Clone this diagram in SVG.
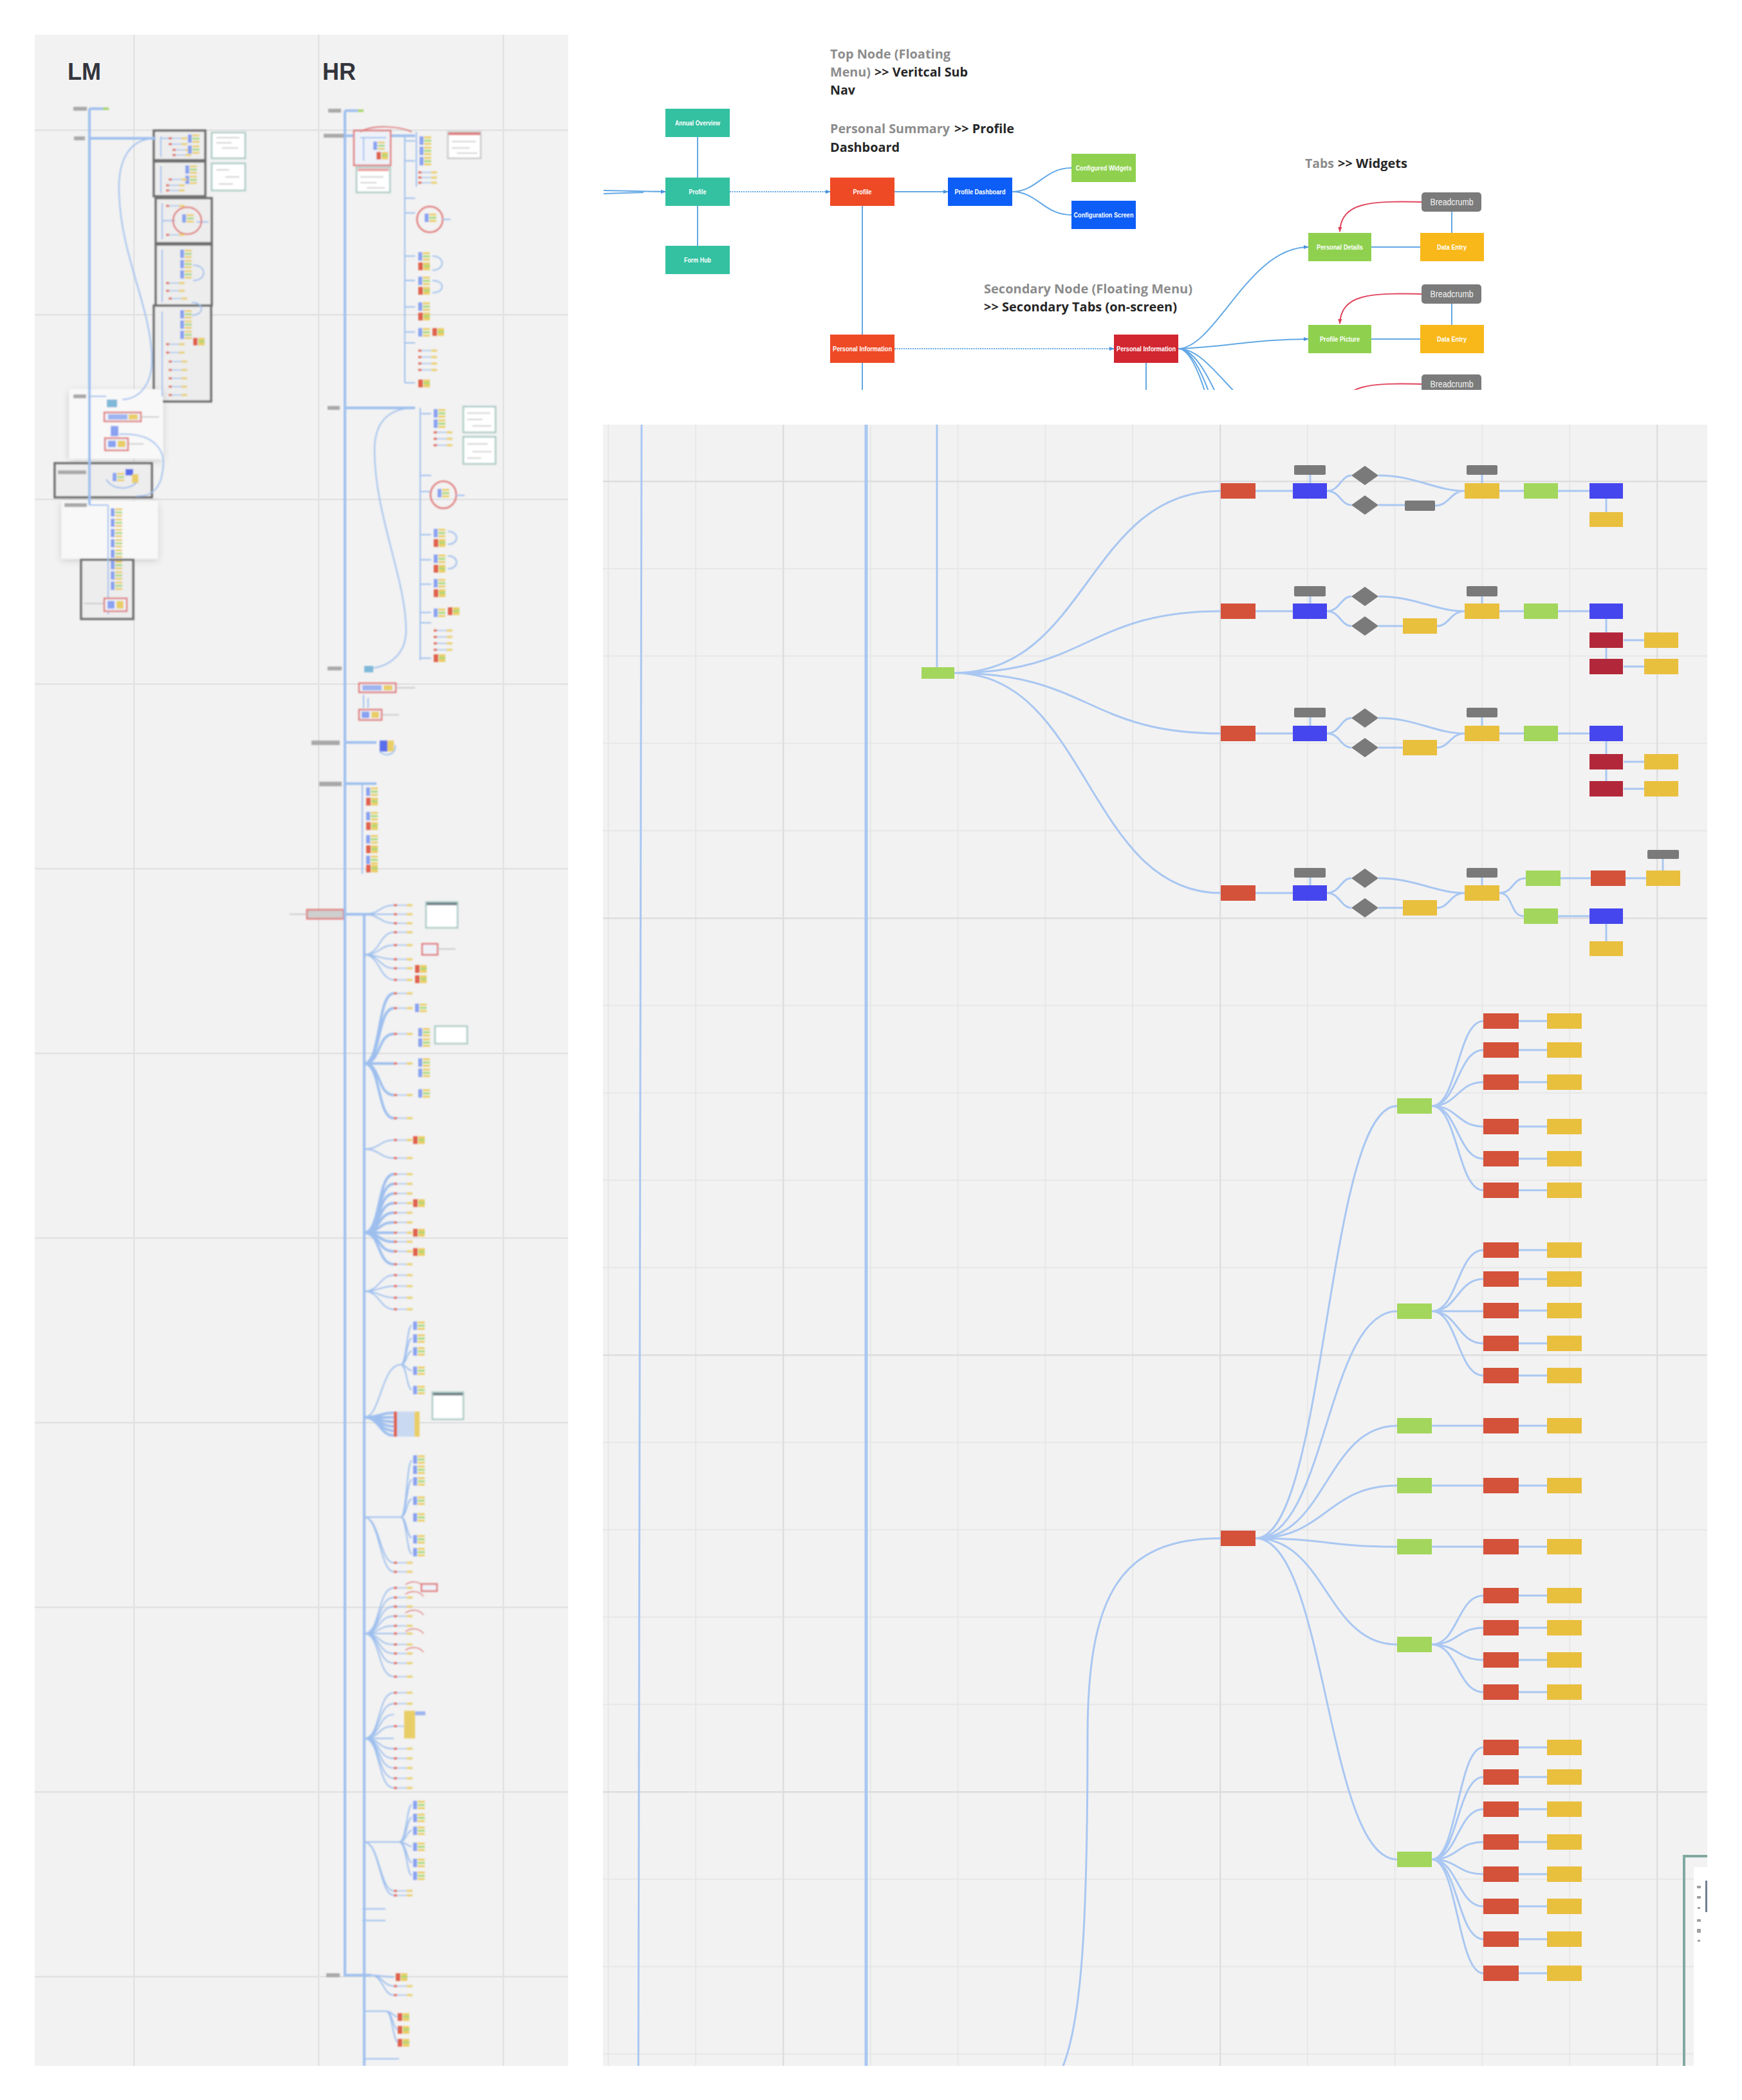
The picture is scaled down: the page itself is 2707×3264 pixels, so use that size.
<svg xmlns="http://www.w3.org/2000/svg" width="2707" height="3264" viewBox="0 0 2707 3264">
<style>
.ttl{font-family:"Open Sans","Liberation Sans",sans-serif;font-weight:700;font-size:20px}
.g{fill:#8C8C8C}.d{fill:#262626}
.nl{font-family:"Liberation Sans",Arial,sans-serif;font-weight:700;font-size:10.5px;fill:#fff;text-anchor:middle}
.bl{font-family:"Liberation Sans",Arial,sans-serif;font-size:14px;fill:#F4F4F4;text-anchor:middle}
.hd{font-family:"Liberation Sans",Arial,sans-serif;font-weight:700;font-size:36px;fill:#34343c}
.teal{fill:#33C1A1}.org{fill:#EF4A26}.blu{fill:#0C5EF6}.grn{fill:#8FD14F}.dred{fill:#D22630}.yel{fill:#F8B81A}.gry{fill:#7B7B7B}
.c{fill:none;stroke:#62A8E5;stroke-width:2}
.cd{fill:none;stroke:#62A8E5;stroke-width:2;stroke-dasharray:2 1.5}
.cr{fill:none;stroke:#E0445C;stroke-width:2}
.R{fill:#D4513A}.B{fill:#4646EE}.Y{fill:#E9BF3E}.G{fill:#A3D65C}.DR{fill:#B2283A}.GR{fill:#7A7A7A}
.w{fill:none;stroke:#A9C7F2;stroke-width:3}
.ml{fill:none;stroke:#9EBFEE;stroke-width:2}
.mlb{fill:none;stroke:#9EBFEE;stroke-width:4}
.mlab{fill:#A9A9A9}
.mgl{fill:none;stroke:#BDBDBD;stroke-width:1.5}
.mbox{fill:#EDEDED;stroke:#6E6E6E;stroke-width:3.5}
.mth{fill:#FFFFFF;stroke:#A9C9C3;stroke-width:2.5}
.mred{fill:#EEF2F8;stroke:#E07A7A;stroke-width:2.5}
.msh{fill:#F8F8F8}
</style>
<defs>
<pattern id="gMin" patternUnits="userSpaceOnUse" x="944.4" y="747" width="135.8" height="135.8"><path d="M0 1H135.8M1 0V135.8" stroke="#E7E7E7" stroke-width="2" fill="none"/></pattern>
<pattern id="gMaj" patternUnits="userSpaceOnUse" x="1216" y="747" width="679" height="679"><path d="M0 1.2H679M1.2 0V679" stroke="#DDDDDD" stroke-width="2.4" fill="none"/></pattern>
<pattern id="gLeft" patternUnits="userSpaceOnUse" x="207" y="201" width="287" height="287"><path d="M0 1.2H287M1.2 0V287" stroke="#E2E2E2" stroke-width="2.4" fill="none"/></pattern>
<clipPath id="ctop"><rect x="938" y="40" width="1715" height="566"/></clipPath>
<clipPath id="cbot"><rect x="937" y="660" width="1716" height="2551"/></clipPath>
<clipPath id="cleft"><rect x="54" y="54" width="829" height="3157"/></clipPath>
<filter id="soft" x="-5%" y="-5%" width="110%" height="110%"><feGaussianBlur stdDeviation="1.1"/></filter>
<filter id="shd" x="-20%" y="-20%" width="140%" height="140%"><feDropShadow dx="0" dy="3" stdDeviation="6" flood-color="#000" flood-opacity="0.16"/></filter>
<marker id="ab" viewBox="0 0 10 10" refX="9" refY="5" markerWidth="8" markerHeight="8" markerUnits="userSpaceOnUse" orient="auto"><path d="M0 1L10 5L0 9z" fill="#4A93DD"/></marker>
<marker id="ar" viewBox="0 0 10 10" refX="9" refY="5" markerWidth="8" markerHeight="8" markerUnits="userSpaceOnUse" orient="auto"><path d="M0 1L10 5L0 9z" fill="#DB3F57"/></marker>
<g id="fr"><rect x="0" y="-1.5" width="5" height="3" fill="#E0624E"/><path d="M5 0H20" stroke="#9EBFEE" stroke-width="1.5"/><rect x="20" y="-1.5" width="9" height="3" fill="#E9CE67"/></g>
<g id="st"><rect x="0" y="0" width="6" height="13" fill="#8AA2F0"/><rect x="7" y="0" width="11" height="3" fill="#E9CE67"/><rect x="7" y="5" width="11" height="3" fill="#A9D878"/><rect x="7" y="10" width="11" height="3" fill="#E9CE67"/></g>
<g id="sr"><rect x="0" y="0" width="7" height="12" fill="#E0624E"/><rect x="8" y="0" width="10" height="12" fill="#E9CE67"/><rect x="8" y="4" width="10" height="3" fill="#A9D878"/></g>
</defs>

<rect width="2707" height="3264" fill="#FFFFFF"/>

<!-- ===================== LEFT OVERVIEW PANEL ===================== -->
<g id="left-panel" clip-path="url(#cleft)">
<rect x="54" y="54" width="829" height="3157" fill="#F2F2F2"/>
<rect x="54" y="54" width="829" height="3157" fill="url(#gLeft)"/>
<text class="hd" x="105" y="124">LM</text>
<text class="hd" x="501" y="124">HR</text>

<g id="lm-map" filter="url(#soft)">
 <rect class="mbox" x="239" y="203" width="80" height="46"/>
 <rect class="mbox" x="239" y="251" width="80" height="54"/>
 <rect class="mbox" x="242" y="308" width="87" height="70"/>
 <rect class="mbox" x="242" y="380" width="87" height="95"/>
 <rect class="mbox" x="239" y="475" width="89" height="149"/>
 <rect class="mth" x="329" y="206" width="52" height="40"/>
 <rect class="mth" x="329" y="254" width="52" height="42"/>
 <path d="M336 214H372M336 222H360M345 230H370" stroke="#CFCFCF" stroke-width="2"/>
 <path d="M336 264H356M350 275H372M340 286H362" stroke="#CFCFCF" stroke-width="2"/>
 <rect class="msh" x="108" y="605" width="145" height="108" filter="url(#shd)"/>
 <rect class="mbox" x="85" y="720" width="151" height="53"/>
 <rect class="msh" x="96" y="779" width="149" height="89" filter="url(#shd)"/>
 <rect class="mbox" x="126" y="870" width="81" height="92"/>

 <rect class="mlab" x="114" y="166" width="21" height="6"/>
 <rect class="mlab" x="115" y="212" width="17" height="6"/>
 <path class="mlb" d="M139 169V785M139 169H164M139 215H242"/>
 <rect x="160" y="167" width="9" height="4" fill="#A8D670"/>
 <path class="ml" d="M242 215C200 215 183 250 185 300C188 400 236 480 236 560C236 600 215 620 190 621"/>
 <path class="ml" d="M250 212V244M250 215H262M250 258V300M252 316V372M252 343H272M252 388V470M252 484V616M305 345H324M300 412C322 412 322 436 300 436M298 470C318 470 318 490 298 490"/>
 <use href="#fr" x="262" y="215"/><use href="#fr" x="262" y="224"/><use href="#fr" x="268" y="233"/><use href="#fr" x="268" y="241"/>
 <use href="#st" x="292" y="209"/><use href="#st" x="292" y="226"/>
 <use href="#st" x="288" y="257"/><use href="#st" x="288" y="273"/>
 <use href="#fr" x="258" y="288"/><use href="#fr" x="258" y="296"/><use href="#fr" x="262" y="279"/>
 <ellipse cx="291" cy="343" rx="22" ry="21" fill="none" stroke="#E17B7B" stroke-width="2.5"/>
 <use href="#st" x="283" y="333"/>
 <use href="#fr" x="258" y="320"/><use href="#fr" x="258" y="365"/>
 <use href="#st" x="280" y="388"/><use href="#st" x="280" y="404"/><use href="#st" x="280" y="420"/>
 <use href="#fr" x="258" y="440"/><use href="#fr" x="258" y="452"/><use href="#fr" x="262" y="464"/>
 <use href="#st" x="280" y="482"/><use href="#st" x="280" y="498"/><use href="#st" x="280" y="514"/>
 <use href="#sr" x="300" y="525"/>
 <use href="#fr" x="258" y="535"/><use href="#fr" x="258" y="548"/><use href="#fr" x="262" y="562"/><use href="#fr" x="262" y="575"/><use href="#fr" x="262" y="588"/><use href="#fr" x="262" y="601"/><use href="#fr" x="262" y="614"/>

 <rect class="mlab" x="114" y="613" width="20" height="6"/>
 <path class="ml" d="M139 616H165"/>
 <rect x="166" y="621" width="16" height="12" fill="#7FB8D8"/>
 <rect class="mred" x="162" y="641" width="57" height="14"/>
 <rect x="168" y="644" width="30" height="8" fill="#9DB4F0"/><rect x="200" y="644" width="14" height="8" fill="#E9CE67"/>
 <path class="mgl" d="M219 648H247M199 690H223M131 938H161"/>
 <rect x="172" y="662" width="12" height="16" fill="#8AA2F0"/>
 <rect class="mred" x="163" y="681" width="36" height="19"/>
 <rect x="168" y="685" width="12" height="10" fill="#8AA2F0"/><rect x="183" y="685" width="12" height="10" fill="#E9CE67"/>
 <path class="ml" d="M185 675C240 672 258 700 253 730C250 760 235 772 212 771"/>
 <rect class="mlab" x="90" y="731" width="44" height="6"/>
 <use href="#st" x="175" y="735"/>
 <rect x="195" y="729" width="12" height="10" fill="#5A6EEA"/><rect x="205" y="737" width="10" height="14" fill="#E9CE67"/>
 <path class="ml" d="M165 745C175 762 200 762 212 750"/>
 <rect class="mlab" x="100" y="782" width="35" height="6"/>
 <path class="ml" d="M168 785V955M139 785H168"/>
 <use href="#st" x="172" y="790"/><use href="#st" x="172" y="806"/><use href="#st" x="172" y="822"/><use href="#st" x="172" y="838"/><use href="#st" x="172" y="854"/><use href="#st" x="172" y="872"/><use href="#st" x="172" y="888"/><use href="#st" x="172" y="904"/>
 <rect class="mred" x="162" y="930" width="35" height="20"/>
 <rect x="167" y="934" width="11" height="12" fill="#8AA2F0"/><rect x="181" y="934" width="11" height="12" fill="#E9CE67"/>
</g>

<g id="hr-map" filter="url(#soft)">
 <rect class="mlab" x="510" y="169" width="20" height="6"/>
 <rect class="mlab" x="503" y="208" width="31" height="6"/>
 <rect class="mlab" x="509" y="631" width="19" height="6"/>
 <rect class="mlab" x="509" y="1036" width="22" height="6"/>
 <rect class="mlab" x="484" y="1151" width="44" height="7"/>
 <rect class="mlab" x="496" y="1215" width="35" height="7"/>
 <rect class="mlab" x="507" y="3067" width="21" height="6"/>
 <rect x="477" y="1414" width="57" height="14" fill="#CFCFCF" stroke="#E07A7A" stroke-width="2.5"/>
 <path class="mgl" d="M450 1421H477"/>

 <path class="mlb" d="M536 172V3070H577M536 172H561M536 211H645M536 634H645M536 1154H585M536 1218H585M534 1421H577"/>
 <rect x="556" y="170" width="9" height="4" fill="#A8D670"/>
 <path class="mlb" d="M566 1421V3211"/>

 <rect class="mred" x="550" y="203" width="57" height="54"/>
 <path class="ml" d="M560 214H600M565 214V250"/>
 <use href="#st" x="580" y="220"/><use href="#sr" x="585" y="236"/>
 <path d="M560 205C580 193 620 196 640 205" fill="none" stroke="#E07A7A" stroke-width="2"/>
 <rect class="mth" x="554" y="260" width="52" height="39"/>
 <rect x="556" y="262" width="48" height="4" fill="#E9A0A0"/>
 <path d="M560 275H596M560 284H585M570 292H598" stroke="#D0D0D0" stroke-width="2"/>
 <rect class="mth" x="696" y="205" width="51" height="41" style="stroke:#C8C8C8"/>
 <rect x="697" y="206" width="49" height="4" fill="#E07A7A"/>
 <path d="M702 220H740M702 230H730M710 238H742" stroke="#D0D0D0" stroke-width="2"/>

 <path class="ml" d="M629 209V595M647 205V290M629 219H645M629 250H645M629 308H645M629 331H645M629 398H645M629 436H645M629 477H645M629 516H645M629 533H645M629 595H645"/>
 <use href="#st" x="652" y="212"/><use href="#st" x="652" y="228"/><use href="#st" x="652" y="244"/>
 <use href="#fr" x="650" y="268"/><use href="#fr" x="650" y="276"/><use href="#fr" x="650" y="284"/>
 <ellipse cx="668" cy="341" rx="20" ry="20" fill="none" stroke="#E17B7B" stroke-width="2.5"/>
 <use href="#st" x="660" y="332"/>
 <path class="ml" d="M688 341H700"/>
 <use href="#st" x="650" y="392"/><use href="#sr" x="650" y="408"/>
 <path class="ml" d="M672 398C692 398 692 420 672 420M672 436C692 436 692 455 672 455"/>
 <use href="#st" x="650" y="430"/><use href="#sr" x="650" y="446"/>
 <use href="#st" x="650" y="470"/><use href="#sr" x="650" y="486"/>
 <use href="#st" x="650" y="510"/><use href="#sr" x="672" y="510"/>
 <use href="#fr" x="650" y="545"/><use href="#fr" x="650" y="555"/><use href="#fr" x="650" y="565"/><use href="#fr" x="650" y="575"/>
 <use href="#sr" x="650" y="590"/>

 <path class="ml" d="M645 634C600 634 582 660 582 700C582 800 631 900 631 980C631 1020 600 1039 569 1039"/>
 <path class="ml" d="M653 634V1026M653 643H670M653 739H670M653 764H670M653 831H670M653 870H670M653 908H670M653 952H670M653 968H670M653 1023H670"/>
 <rect class="mth" x="720" y="632" width="50" height="40"/>
 <rect class="mth" x="720" y="679" width="50" height="42"/>
 <path d="M726 642H762M726 652H750M734 662H764M726 690H758M734 702H764M726 712H748" stroke="#D0D0D0" stroke-width="2"/>
 <use href="#st" x="674" y="636"/><use href="#st" x="674" y="652"/><use href="#fr" x="674" y="672"/><use href="#fr" x="674" y="682"/><use href="#fr" x="674" y="692"/>
 <ellipse cx="689" cy="769" rx="20" ry="21" fill="none" stroke="#E17B7B" stroke-width="2.5"/>
 <use href="#st" x="680" y="760"/>
 <path class="ml" d="M709 770H722"/>
 <use href="#st" x="674" y="822"/><use href="#sr" x="674" y="838"/>
 <path class="ml" d="M696 826C714 826 714 846 696 846M696 864C714 864 714 884 696 884"/>
 <use href="#st" x="674" y="862"/><use href="#sr" x="674" y="878"/>
 <use href="#st" x="674" y="900"/><use href="#sr" x="674" y="916"/>
 <use href="#st" x="674" y="946"/><use href="#sr" x="696" y="944"/>
 <use href="#fr" x="674" y="980"/><use href="#fr" x="674" y="990"/><use href="#fr" x="674" y="1000"/><use href="#fr" x="674" y="1010"/>
 <use href="#sr" x="674" y="1017"/>

 <rect x="566" y="1035" width="14" height="10" fill="#7FB8D8"/>
 <rect class="mred" x="558" y="1062" width="57" height="14"/>
 <rect x="563" y="1065" width="30" height="8" fill="#9DB4F0"/><rect x="596" y="1065" width="14" height="8" fill="#E9CE67"/>
 <path class="mgl" d="M615 1069H645M593 1111H620"/>
 <path class="ml" d="M565 1080V1100M572 1085V1100"/>
 <rect class="mred" x="558" y="1103" width="35" height="16"/>
 <rect x="562" y="1106" width="12" height="10" fill="#8AA2F0"/><rect x="577" y="1106" width="12" height="10" fill="#E9CE67"/>
 <rect x="590" y="1151" width="12" height="17" fill="#5A6EEA"/><rect x="602" y="1151" width="10" height="17" fill="#E9CE67"/>
 <path class="ml" d="M590 1168C600 1178 616 1172 614 1158"/>
 <path class="ml" d="M563 1218V1358"/>
 <use href="#st" x="569" y="1224"/><use href="#sr" x="569" y="1240"/><use href="#st" x="569" y="1262"/><use href="#sr" x="569" y="1278"/><use href="#st" x="569" y="1298"/><use href="#sr" x="569" y="1314"/><use href="#st" x="569" y="1330"/><use href="#sr" x="569" y="1344"/>

 <path class="ml" d="M566 1421C590 1421 590 1407 612 1407M566 1421H612M566 1421C590 1421 590 1435 612 1435"/>
 <use href="#fr" x="612" y="1407"/><use href="#fr" x="612" y="1421"/><use href="#fr" x="612" y="1435"/>
 <rect class="mth" x="662" y="1402" width="49" height="40"/><rect x="663" y="1403" width="47" height="4" fill="#6E7E86"/>
 <path class="ml" d="M566 1484C590 1484 590 1449 612 1449M566 1484C590 1484 590 1469 612 1469M566 1484C590 1484 590 1491 612 1491M566 1484C590 1484 590 1505 612 1505M566 1484C590 1484 590 1523 612 1523"/>
 <use href="#fr" x="612" y="1449"/><use href="#fr" x="612" y="1469"/><use href="#fr" x="612" y="1491"/><use href="#fr" x="612" y="1505"/><use href="#fr" x="612" y="1523"/>
 <rect class="mred" x="656" y="1467" width="24" height="17"/><path class="mgl" d="M680 1475H708"/>
 <use href="#sr" x="645" y="1500"/><use href="#sr" x="645" y="1516"/>
 <path class="mlb" d="M566 1653C592 1653 586 1544 612 1544M566 1653C592 1653 586 1567 612 1567M566 1653C592 1653 586 1607 612 1607M566 1653H612M566 1653C592 1653 586 1702 612 1702M566 1653C592 1653 586 1738 612 1738"/>
 <use href="#fr" x="612" y="1544"/><use href="#fr" x="612" y="1567"/><use href="#fr" x="612" y="1607"/><use href="#fr" x="612" y="1653"/><use href="#fr" x="612" y="1702"/><use href="#fr" x="612" y="1738"/>
 <use href="#st" x="645" y="1560"/><use href="#st" x="650" y="1598"/><use href="#st" x="650" y="1614"/><use href="#st" x="650" y="1645"/><use href="#st" x="650" y="1661"/><use href="#st" x="650" y="1693"/>
 <rect class="mth" x="676" y="1595" width="50" height="27"/>
 <path class="ml" d="M566 1786C590 1786 590 1772 612 1772M566 1786C590 1786 590 1800 612 1800"/>
 <use href="#fr" x="612" y="1772"/><use href="#fr" x="612" y="1800"/><use href="#sr" x="642" y="1766"/>
 <path class="mlb" d="M566 1916C592 1916 586 1825 612 1825M566 1916C592 1916 586 1840 612 1840M566 1916C592 1916 586 1855 612 1855M566 1916C592 1916 586 1870 612 1870M566 1916C592 1916 586 1885 612 1885M566 1916C592 1916 586 1900 612 1900M566 1916H612M566 1916C592 1916 586 1930 612 1930M566 1916C592 1916 586 1945 612 1945M566 1916C592 1916 586 1965 612 1965"/>
 <use href="#fr" x="612" y="1825"/><use href="#fr" x="612" y="1840"/><use href="#fr" x="612" y="1855"/><use href="#fr" x="612" y="1870"/><use href="#fr" x="612" y="1885"/><use href="#fr" x="612" y="1900"/><use href="#fr" x="612" y="1916"/><use href="#fr" x="612" y="1930"/><use href="#fr" x="612" y="1945"/><use href="#fr" x="612" y="1965"/>
 <use href="#sr" x="642" y="1864"/><use href="#sr" x="642" y="1910"/><use href="#sr" x="642" y="1940"/>
 <path class="ml" d="M566 2007C590 2007 590 1982 612 1982M566 2007C590 2007 590 1999 612 1999M566 2007C590 2007 590 2017 612 2017M566 2007C590 2007 590 2035 612 2035"/>
 <use href="#fr" x="612" y="1982"/><use href="#fr" x="612" y="1999"/><use href="#fr" x="612" y="2017"/><use href="#fr" x="612" y="2035"/>
 <path class="ml" d="M566 2203C592 2203 592 2121 623 2121M623 2121C632 2121 632 2060 640 2060M623 2121C632 2121 632 2080 640 2080M623 2121C632 2121 632 2100 640 2100M623 2121C632 2121 632 2130 640 2130M623 2121C632 2121 632 2160 640 2160"/>
 <use href="#st" x="642" y="2054"/><use href="#st" x="642" y="2074"/><use href="#st" x="642" y="2094"/><use href="#st" x="642" y="2124"/><use href="#st" x="642" y="2154"/>
 <path class="mlb" d="M566 2203C590 2203 590 2196 612 2196M566 2203H612M566 2203C590 2203 590 2210 612 2210M566 2203C590 2203 590 2217 612 2217M566 2203C590 2203 590 2224 612 2224M566 2203C590 2203 590 2231 612 2231"/>
 <rect x="612" y="2194" width="38" height="39" fill="#C9D9F2"/><rect x="612" y="2194" width="5" height="39" fill="#E0624E"/><rect x="644" y="2194" width="8" height="39" fill="#E9CE67"/>
 <rect class="mth" x="672" y="2164" width="48" height="42"/><rect x="673" y="2165" width="46" height="4" fill="#6E7E86"/>
 <path class="ml" d="M566 2358H623M623 2358C632 2358 632 2270 640 2270M623 2358C632 2358 632 2300 640 2300M623 2358C632 2358 632 2330 640 2330M623 2358C632 2358 632 2390 640 2390M623 2358C632 2358 632 2415 640 2415M566 2358C590 2358 590 2429 612 2429M566 2358C590 2358 590 2443 612 2443"/>
 <use href="#st" x="642" y="2262"/><use href="#st" x="642" y="2278"/><use href="#st" x="642" y="2296"/><use href="#st" x="642" y="2326"/><use href="#st" x="642" y="2352"/><use href="#st" x="642" y="2386"/><use href="#st" x="642" y="2406"/>
 <use href="#fr" x="612" y="2429"/><use href="#fr" x="612" y="2443"/>
 <path class="ml" d="M566 2539C592 2539 586 2468 612 2468M566 2539C592 2539 586 2483 612 2483M566 2539C592 2539 586 2497 612 2497M566 2539C592 2539 586 2512 612 2512M566 2539C592 2539 586 2527 612 2527M566 2539H612M566 2539C592 2539 586 2556 612 2556M566 2539C592 2539 586 2570 612 2570M566 2539C592 2539 586 2585 612 2585M566 2539C592 2539 586 2606 612 2606"/>
 <use href="#fr" x="612" y="2468"/><use href="#fr" x="612" y="2483"/><use href="#fr" x="612" y="2497"/><use href="#fr" x="612" y="2512"/><use href="#fr" x="612" y="2527"/><use href="#fr" x="612" y="2539"/><use href="#fr" x="612" y="2556"/><use href="#fr" x="612" y="2570"/><use href="#fr" x="612" y="2585"/><use href="#fr" x="612" y="2606"/>
 <path d="M630 2463C640 2456 652 2458 658 2466M630 2478C640 2471 652 2473 658 2481M630 2507C640 2500 652 2502 658 2510M630 2536C640 2529 652 2531 658 2539M630 2565C640 2558 652 2560 658 2568" fill="none" stroke="#E07A7A" stroke-width="1.5"/>
 <rect class="mred" x="655" y="2462" width="24" height="11"/>
 <path class="ml" d="M566 2702C592 2702 586 2631 612 2631M566 2702C592 2702 586 2648 612 2648M566 2702C592 2702 586 2665 612 2665M566 2702C592 2702 586 2683 612 2683M566 2702H612M566 2702C592 2702 586 2718 612 2718M566 2702C592 2702 586 2733 612 2733M566 2702C592 2702 586 2748 612 2748M566 2702C592 2702 586 2764 612 2764M566 2702C592 2702 586 2779 612 2779"/>
 <use href="#fr" x="612" y="2631"/><use href="#fr" x="612" y="2648"/><use href="#fr" x="612" y="2683"/><use href="#fr" x="612" y="2718"/><use href="#fr" x="612" y="2733"/><use href="#fr" x="612" y="2748"/><use href="#fr" x="612" y="2764"/><use href="#fr" x="612" y="2779"/>
 <rect x="628" y="2659" width="17" height="43" fill="#E9CE67"/><rect x="645" y="2660" width="16" height="6" fill="#9DB4F0"/>
 <path class="ml" d="M566 2863H620M620 2863C632 2863 632 2805 640 2805M620 2863C632 2863 632 2825 640 2825M620 2863C632 2863 632 2845 640 2845M620 2863C632 2863 632 2870 640 2870M620 2863C632 2863 632 2895 640 2895M620 2863C632 2863 632 2915 640 2915M566 2863C590 2863 590 2939 612 2939M566 2863C590 2863 590 2946 612 2946"/>
 <use href="#st" x="642" y="2799"/><use href="#st" x="642" y="2819"/><use href="#st" x="642" y="2839"/><use href="#st" x="642" y="2864"/><use href="#st" x="642" y="2889"/><use href="#st" x="642" y="2909"/>
 <use href="#fr" x="612" y="2939"/><use href="#fr" x="612" y="2946"/>
 <path class="ml" d="M563 2967H599M563 2985H599"/>
 <path class="ml" d="M577 3070C595 3070 595 3073 612 3073M577 3070C595 3070 595 3087 612 3087M577 3070C595 3070 595 3101 612 3101"/>
 <use href="#sr" x="615" y="3067"/><use href="#fr" x="612" y="3087"/><use href="#fr" x="612" y="3101"/>
 <path class="ml" d="M566 3126H600M600 3126C610 3126 610 3135 620 3135M600 3126C610 3126 610 3155 620 3155M600 3126C610 3126 610 3175 620 3175M566 3200H620"/>
 <use href="#sr" x="618" y="3129"/><use href="#sr" x="618" y="3149"/><use href="#sr" x="618" y="3169"/>
</g>
</g>

<!-- ===================== TOP DETAIL PANEL ===================== -->
<g id="top-panel" clip-path="url(#ctop)">
 <g id="captions">
  <text class="ttl g" x="1290" y="91" textLength="187" lengthAdjust="spacingAndGlyphs">Top Node (Floating</text>
  <text class="ttl g" x="1290" y="119" textLength="63" lengthAdjust="spacingAndGlyphs">Menu)</text>
  <text class="ttl d" x="1359" y="119" textLength="145" lengthAdjust="spacingAndGlyphs">&gt;&gt; Veritcal Sub</text>
  <text class="ttl d" x="1290" y="147" textLength="39" lengthAdjust="spacingAndGlyphs">Nav</text>
  <text class="ttl g" x="1290" y="207" textLength="186" lengthAdjust="spacingAndGlyphs">Personal Summary</text>
  <text class="ttl d" x="1483" y="207" textLength="93" lengthAdjust="spacingAndGlyphs">&gt;&gt; Profile</text>
  <text class="ttl d" x="1290" y="236" textLength="108" lengthAdjust="spacingAndGlyphs">Dashboard</text>
  <text class="ttl g" x="1529" y="456" textLength="324" lengthAdjust="spacingAndGlyphs">Secondary Node (Floating Menu)</text>
  <text class="ttl d" x="1529" y="484" textLength="300" lengthAdjust="spacingAndGlyphs">&gt;&gt; Secondary Tabs (on-screen)</text>
  <text class="ttl g" x="2028" y="261" textLength="45" lengthAdjust="spacingAndGlyphs">Tabs</text>
  <text class="ttl d" x="2079" y="261" textLength="108" lengthAdjust="spacingAndGlyphs">&gt;&gt; Widgets</text>
 </g>

 <g id="top-connectors">
  <path class="c" d="M938 296L1034 298" marker-end="url(#ab)"/>
  <path class="c" d="M938 301L1000 299"/>
  <path class="c" d="M1084 213V276M1084 320V382"/>
  <path class="cd" d="M1134 298H1290" marker-end="url(#ab)"/>
  <path class="c" d="M1390 298H1473" marker-end="url(#ab)"/>
  <path class="c" d="M1573 298C1612 298 1622 261 1665 261M1573 298C1612 298 1622 334 1665 334"/>
  <path class="c" d="M1340 320V520M1340 564V606"/>
  <path class="cd" d="M1390 542H1731" marker-end="url(#ab)"/>
  <path class="c" d="M1781 564V606"/>
  <path class="c" d="M1831 542C1890 540 1940 384 2033 384" marker-end="url(#ab)"/>
  <path class="c" d="M1831 542C1900 540 1950 527 2033 527" marker-end="url(#ab)"/>
  <path class="c" d="M1831 542C1890 542 1930 670 2033 670M1831 542C1895 542 1935 812 2033 812M1831 542C1898 542 1938 955 2033 955M1831 542C1900 542 1940 1100 2033 1100"/>
  <path class="c" d="M2256 329V362M2131 384H2207M2256 472V505M2131 527H2207"/>
  <path class="cr" d="M2209 314C2130 312 2084 314 2082 360" marker-end="url(#ar)"/>
  <path class="cr" d="M2209 457C2130 455 2084 457 2082 503" marker-end="url(#ar)"/>
  <path class="cr" d="M2209 597C2130 595 2084 597 2082 643"/>
 </g>

 <g id="n-annual-overview"><rect class="teal" x="1034" y="169" width="100" height="44"/><text class="nl" x="1084" y="195" textLength="70" lengthAdjust="spacingAndGlyphs">Annual Overview</text></g>
 <g id="n-profile-teal"><rect class="teal" x="1034" y="276" width="100" height="44"/><text class="nl" x="1084" y="302" textLength="27" lengthAdjust="spacingAndGlyphs">Profile</text></g>
 <g id="n-form-hub"><rect class="teal" x="1034" y="382" width="100" height="44"/><text class="nl" x="1084" y="408" textLength="42" lengthAdjust="spacingAndGlyphs">Form Hub</text></g>
 <g id="n-profile"><rect class="org" x="1290" y="276" width="100" height="44"/><text class="nl" x="1340" y="302" textLength="29" lengthAdjust="spacingAndGlyphs">Profile</text></g>
 <g id="n-profile-dashboard"><rect class="blu" x="1473" y="276" width="100" height="44"/><text class="nl" x="1523" y="302" textLength="79" lengthAdjust="spacingAndGlyphs">Profile Dashboard</text></g>
 <g id="n-configured-widgets"><rect class="grn" x="1665" y="239" width="100" height="44"/><text class="nl" x="1715" y="265" textLength="87" lengthAdjust="spacingAndGlyphs">Configured Widgets</text></g>
 <g id="n-configuration-screen"><rect class="blu" x="1665" y="312" width="100" height="44"/><text class="nl" x="1715" y="338" textLength="93" lengthAdjust="spacingAndGlyphs">Configuration Screen</text></g>
 <g id="n-personal-info-1"><rect class="org" x="1290" y="520" width="100" height="44"/><text class="nl" x="1340" y="546" textLength="92" lengthAdjust="spacingAndGlyphs">Personal Information</text></g>
 <g id="n-personal-info-2"><rect class="dred" x="1731" y="520" width="100" height="44"/><text class="nl" x="1781" y="546" textLength="92" lengthAdjust="spacingAndGlyphs">Personal Information</text></g>
 <g id="n-personal-details"><rect class="grn" x="2033" y="362" width="98" height="44"/><text class="nl" x="2082" y="388" textLength="72" lengthAdjust="spacingAndGlyphs">Personal Details</text></g>
 <g id="n-data-entry-1"><rect class="yel" x="2207" y="362" width="99" height="44"/><text class="nl" x="2256" y="388" textLength="46" lengthAdjust="spacingAndGlyphs">Data Entry</text></g>
 <g id="n-breadcrumb-1"><rect class="gry" x="2209" y="299" width="93" height="30" rx="5"/><text class="bl" x="2256" y="319" textLength="67" lengthAdjust="spacingAndGlyphs">Breadcrumb</text></g>
 <g id="n-profile-picture"><rect class="grn" x="2033" y="505" width="98" height="44"/><text class="nl" x="2082" y="531" textLength="62" lengthAdjust="spacingAndGlyphs">Profile Picture</text></g>
 <g id="n-data-entry-2"><rect class="yel" x="2207" y="505" width="99" height="44"/><text class="nl" x="2256" y="531" textLength="46" lengthAdjust="spacingAndGlyphs">Data Entry</text></g>
 <g id="n-breadcrumb-2"><rect class="gry" x="2209" y="442" width="93" height="30" rx="5"/><text class="bl" x="2256" y="462" textLength="67" lengthAdjust="spacingAndGlyphs">Breadcrumb</text></g>
 <g id="n-breadcrumb-3"><rect class="gry" x="2209" y="582" width="93" height="30" rx="5"/><text class="bl" x="2256" y="602" textLength="67" lengthAdjust="spacingAndGlyphs">Breadcrumb</text></g>
</g>

<!-- ===================== BOTTOM DETAIL PANEL ===================== -->
<g id="bottom-panel" clip-path="url(#cbot)">
 <rect x="937" y="660" width="1716" height="2551" fill="#F2F2F2"/>
 <rect x="937" y="660" width="1716" height="2551" fill="url(#gMin)"/>
 <rect x="937" y="660" width="1716" height="2551" fill="url(#gMaj)"/>

 <g id="bottom-connectors">
  <path class="w" d="M997 660L992 3211"/>
  <path class="w" d="M1346 660V3211" style="stroke-width:5"/>
  <path class="w" d="M1456 660V1037"/>
  <path class="w" d="M1483 1046C1690 1046 1690 763 1897 763M1483 1046C1690 1046 1690 950 1897 950M1483 1046C1690 1046 1690 1140 1897 1140M1483 1046C1690 1046 1690 1388 1897 1388"/>
  <path class="w" d="M1951 763H2009M2036 738V751M2062 763C2082 763 2084 739 2100 739M2062 763C2082 763 2084 785 2100 785M2142 739C2200 739 2230 763 2276 763M2142 785H2183M2230 786C2252 786 2254 763 2276 763M2303 738V751M2330 763H2368M2421 763H2470M2496 775V796"/>
  <path class="w" d="M1951 950H2009M2036 927V938M2062 950C2082 950 2084 927 2100 927M2062 950C2082 950 2084 973 2100 973M2142 927C2200 927 2230 950 2276 950M2142 973H2180M2233 973C2252 973 2254 950 2276 950M2303 927V938M2330 950H2368M2421 950H2470M2496 962V1024M2523 995H2555M2523 1036H2555"/>
  <path class="w" d="M1951 1140H2009M2036 1115V1128M2062 1140C2082 1140 2084 1116 2100 1116M2062 1140C2082 1140 2084 1162 2100 1162M2142 1116C2200 1116 2230 1140 2276 1140M2142 1162H2180M2233 1162C2252 1162 2254 1140 2276 1140M2303 1115V1128M2330 1140H2368M2421 1140H2470M2496 1152V1214M2523 1184H2555M2523 1226H2555"/>
  <path class="w" d="M1951 1388H2009M2036 1364V1376M2062 1388C2082 1388 2084 1365 2100 1365M2062 1388C2082 1388 2084 1411 2100 1411M2142 1365C2200 1365 2230 1388 2276 1388M2142 1411H2180M2233 1411C2252 1411 2254 1388 2276 1388M2303 1364V1376M2330 1388C2352 1388 2350 1365 2371 1365M2330 1388C2352 1388 2346 1424 2368 1424M2425 1365H2472M2526 1365H2558M2584 1335V1353M2421 1424H2470M2496 1436V1463"/>
  <path class="w" d="M1652 3211C1680 3140 1690 3000 1690 2700C1690 2480 1740 2391 1897 2391"/>
  <path class="w" d="M1951 2391C2061 2391 2061 1719 2171 1719M1951 2391C2061 2391 2061 2038 2171 2038M1951 2391C2061 2391 2061 2216 2171 2216M1951 2391C2061 2391 2061 2309 2171 2309M1951 2391C2061 2391 2061 2404 2171 2404M1951 2391C2061 2391 2061 2556 2171 2556M1951 2391C2061 2391 2061 2890 2171 2890"/>
  <path class="w" d="M2225 1719C2265 1719 2265 1587 2305 1587M2225 1719C2265 1719 2265 1632 2305 1632M2225 1719C2265 1719 2265 1682 2305 1682M2225 1719C2265 1719 2265 1751 2305 1751M2225 1719C2265 1719 2265 1801 2305 1801M2225 1719C2265 1719 2265 1850 2305 1850"/>
  <path class="w" d="M2225 2038C2265 2038 2265 1943 2305 1943M2225 2038C2265 2038 2265 1988 2305 1988M2225 2038H2305M2225 2038C2265 2038 2265 2088 2305 2088M2225 2038C2265 2038 2265 2138 2305 2138"/>
  <path class="w" d="M2225 2216H2305M2225 2309H2305M2225 2404H2305"/>
  <path class="w" d="M2225 2556C2265 2556 2265 2480 2305 2480M2225 2556C2265 2556 2265 2530 2305 2530M2225 2556C2265 2556 2265 2580 2305 2580M2225 2556C2265 2556 2265 2630 2305 2630"/>
  <path class="w" d="M2225 2890C2265 2890 2265 2716 2305 2716M2225 2890C2265 2890 2265 2762 2305 2762M2225 2890C2265 2890 2265 2812 2305 2812M2225 2890C2265 2890 2265 2863 2305 2863M2225 2890C2265 2890 2265 2913 2305 2913M2225 2890C2265 2890 2265 2963 2305 2963M2225 2890C2265 2890 2265 3014 2305 3014M2225 2890C2265 2890 2265 3067 2305 3067"/>
  <path class="w" d="M2360 1587H2404M2360 1632H2404M2360 1682H2404M2360 1751H2404M2360 1801H2404M2360 1850H2404M2360 1943H2404M2360 1988H2404M2360 2037H2404M2360 2088H2404M2360 2138H2404M2360 2216H2404M2360 2309H2404M2360 2404H2404M2360 2480H2404M2360 2530H2404M2360 2580H2404M2360 2630H2404M2360 2716H2404M2360 2762H2404M2360 2812H2404M2360 2863H2404M2360 2913H2404M2360 2963H2404M2360 3014H2404M2360 3067H2404"/>
 </g>

 <g id="tree1-root"><rect class="G" x="1432" y="1037" width="51" height="18"/></g>
 <g id="row1">
  <rect class="R" x="1897" y="751" width="54" height="24"/>
  <rect class="GR" x="2011" y="723" width="49" height="15" rx="2"/>
  <rect class="B" x="2009" y="751" width="53" height="24"/>
  <path class="GR" d="M2121 724L2142 739L2121 754L2100 739z"/>
  <path class="GR" d="M2121 770L2142 785L2121 800L2100 785z"/>
  <rect class="GR" x="2183" y="778" width="47" height="16" rx="2"/>
  <rect class="GR" x="2279" y="723" width="48" height="15" rx="2"/>
  <rect class="Y" x="2276" y="751" width="54" height="24"/>
  <rect class="G" x="2368" y="751" width="53" height="24"/>
  <rect class="B" x="2470" y="751" width="52" height="24"/>
  <rect class="Y" x="2470" y="796" width="52" height="23"/>
 </g>
 <g id="row2">
  <rect class="R" x="1897" y="938" width="54" height="24"/>
  <rect class="GR" x="2011" y="911" width="49" height="16" rx="2"/>
  <rect class="B" x="2009" y="938" width="53" height="24"/>
  <path class="GR" d="M2121 912L2142 927L2121 942L2100 927z"/>
  <path class="GR" d="M2121 958L2142 973L2121 988L2100 973z"/>
  <rect class="Y" x="2180" y="961" width="53" height="24"/>
  <rect class="GR" x="2279" y="911" width="48" height="16" rx="2"/>
  <rect class="Y" x="2276" y="938" width="54" height="24"/>
  <rect class="G" x="2368" y="938" width="53" height="24"/>
  <rect class="B" x="2470" y="938" width="52" height="24"/>
  <rect class="DR" x="2470" y="983" width="52" height="24"/>
  <rect class="Y" x="2555" y="983" width="53" height="24"/>
  <rect class="DR" x="2470" y="1024" width="52" height="24"/>
  <rect class="Y" x="2555" y="1024" width="53" height="24"/>
 </g>
 <g id="row3">
  <rect class="R" x="1897" y="1128" width="54" height="24"/>
  <rect class="GR" x="2011" y="1100" width="49" height="15" rx="2"/>
  <rect class="B" x="2009" y="1128" width="53" height="24"/>
  <path class="GR" d="M2121 1101L2142 1116L2121 1131L2100 1116z"/>
  <path class="GR" d="M2121 1147L2142 1162L2121 1177L2100 1162z"/>
  <rect class="Y" x="2180" y="1150" width="53" height="24"/>
  <rect class="GR" x="2279" y="1100" width="48" height="15" rx="2"/>
  <rect class="Y" x="2276" y="1128" width="54" height="24"/>
  <rect class="G" x="2368" y="1128" width="53" height="24"/>
  <rect class="B" x="2470" y="1128" width="52" height="24"/>
  <rect class="DR" x="2470" y="1172" width="52" height="24"/>
  <rect class="Y" x="2555" y="1172" width="53" height="24"/>
  <rect class="DR" x="2470" y="1214" width="52" height="24"/>
  <rect class="Y" x="2555" y="1214" width="53" height="24"/>
 </g>
 <g id="row4">
  <rect class="R" x="1897" y="1376" width="54" height="24"/>
  <rect class="GR" x="2011" y="1349" width="49" height="15" rx="2"/>
  <rect class="B" x="2009" y="1376" width="53" height="24"/>
  <path class="GR" d="M2121 1350L2142 1365L2121 1380L2100 1365z"/>
  <path class="GR" d="M2121 1396L2142 1411L2121 1426L2100 1411z"/>
  <rect class="Y" x="2180" y="1399" width="53" height="24"/>
  <rect class="GR" x="2279" y="1349" width="48" height="15" rx="2"/>
  <rect class="Y" x="2276" y="1376" width="54" height="24"/>
  <rect class="G" x="2371" y="1353" width="54" height="24"/>
  <rect class="R" x="2472" y="1353" width="54" height="24"/>
  <rect class="GR" x="2560" y="1321" width="49" height="14" rx="2"/>
  <rect class="Y" x="2558" y="1353" width="53" height="24"/>
  <rect class="G" x="2368" y="1412" width="53" height="24"/>
  <rect class="B" x="2470" y="1412" width="52" height="24"/>
  <rect class="Y" x="2470" y="1463" width="52" height="23"/>
 </g>

 <g id="tree2-root"><rect class="R" x="1897" y="2379" width="54" height="24"/></g>
 <g id="tree2-groups">
  <rect class="G" x="2171" y="1707" width="54" height="24"/>
  <rect class="G" x="2171" y="2026" width="54" height="24"/>
  <rect class="G" x="2171" y="2204" width="54" height="24"/>
  <rect class="G" x="2171" y="2297" width="54" height="24"/>
  <rect class="G" x="2171" y="2392" width="54" height="24"/>
  <rect class="G" x="2171" y="2544" width="54" height="24"/>
  <rect class="G" x="2171" y="2878" width="54" height="24"/>
 </g>
 <g id="tree2-items">
  <rect class="R" x="2305" y="1575" width="55" height="24"/><rect class="Y" x="2404" y="1575" width="54" height="24"/>
  <rect class="R" x="2305" y="1620" width="55" height="24"/><rect class="Y" x="2404" y="1620" width="54" height="24"/>
  <rect class="R" x="2305" y="1670" width="55" height="24"/><rect class="Y" x="2404" y="1670" width="54" height="24"/>
  <rect class="R" x="2305" y="1739" width="55" height="24"/><rect class="Y" x="2404" y="1739" width="54" height="24"/>
  <rect class="R" x="2305" y="1789" width="55" height="24"/><rect class="Y" x="2404" y="1789" width="54" height="24"/>
  <rect class="R" x="2305" y="1838" width="55" height="24"/><rect class="Y" x="2404" y="1838" width="54" height="24"/>
  <rect class="R" x="2305" y="1931" width="55" height="24"/><rect class="Y" x="2404" y="1931" width="54" height="24"/>
  <rect class="R" x="2305" y="1976" width="55" height="24"/><rect class="Y" x="2404" y="1976" width="54" height="24"/>
  <rect class="R" x="2305" y="2025" width="55" height="24"/><rect class="Y" x="2404" y="2025" width="54" height="24"/>
  <rect class="R" x="2305" y="2076" width="55" height="24"/><rect class="Y" x="2404" y="2076" width="54" height="24"/>
  <rect class="R" x="2305" y="2126" width="55" height="24"/><rect class="Y" x="2404" y="2126" width="54" height="24"/>
  <rect class="R" x="2305" y="2204" width="55" height="24"/><rect class="Y" x="2404" y="2204" width="54" height="24"/>
  <rect class="R" x="2305" y="2297" width="55" height="24"/><rect class="Y" x="2404" y="2297" width="54" height="24"/>
  <rect class="R" x="2305" y="2392" width="55" height="24"/><rect class="Y" x="2404" y="2392" width="54" height="24"/>
  <rect class="R" x="2305" y="2468" width="55" height="24"/><rect class="Y" x="2404" y="2468" width="54" height="24"/>
  <rect class="R" x="2305" y="2518" width="55" height="24"/><rect class="Y" x="2404" y="2518" width="54" height="24"/>
  <rect class="R" x="2305" y="2568" width="55" height="24"/><rect class="Y" x="2404" y="2568" width="54" height="24"/>
  <rect class="R" x="2305" y="2618" width="55" height="24"/><rect class="Y" x="2404" y="2618" width="54" height="24"/>
  <rect class="R" x="2305" y="2704" width="55" height="24"/><rect class="Y" x="2404" y="2704" width="54" height="24"/>
  <rect class="R" x="2305" y="2750" width="55" height="24"/><rect class="Y" x="2404" y="2750" width="54" height="24"/>
  <rect class="R" x="2305" y="2800" width="55" height="24"/><rect class="Y" x="2404" y="2800" width="54" height="24"/>
  <rect class="R" x="2305" y="2851" width="55" height="24"/><rect class="Y" x="2404" y="2851" width="54" height="24"/>
  <rect class="R" x="2305" y="2901" width="55" height="24"/><rect class="Y" x="2404" y="2901" width="54" height="24"/>
  <rect class="R" x="2305" y="2951" width="55" height="24"/><rect class="Y" x="2404" y="2951" width="54" height="24"/>
  <rect class="R" x="2305" y="3002" width="55" height="24"/><rect class="Y" x="2404" y="3002" width="54" height="24"/>
  <rect class="R" x="2305" y="3055" width="55" height="24"/><rect class="Y" x="2404" y="3055" width="54" height="24"/>
 </g>

 <g id="side-widget">
  <path d="M2617 3211V2885H2653" fill="none" stroke="#7FA9A0" stroke-width="4"/>
  <rect x="2632" y="2902" width="21" height="309" fill="#FFFFFF"/>
  <rect x="2650" y="2923" width="3" height="49" fill="#6F7F90"/>
  <g fill="#A0A0A0"><rect x="2637" y="2931" width="6" height="4"/><rect x="2637" y="2947" width="6" height="4"/><rect x="2638" y="2964" width="4" height="3"/><rect x="2637" y="2983" width="6" height="4"/><rect x="2637" y="2998" width="6" height="6"/><rect x="2638" y="3015" width="4" height="3"/></g>
 </g>
</g>
</svg>
